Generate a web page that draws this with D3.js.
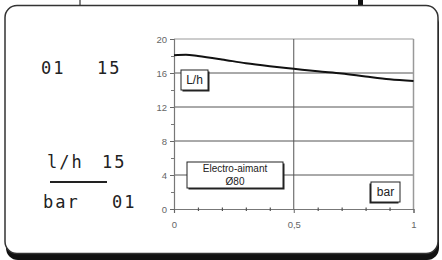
<!DOCTYPE html>
<html><head><meta charset="utf-8">
<script src="https://cdn.jsdelivr.net/npm/d3@7"></script>
<style>html,body{margin:0;padding:0;background:#fff;}svg{display:block;}</style>
</head><body>
<svg id="c" width="442" height="260"></svg>
<script>
// Data
const xs = [0, 0.05, 0.1, 0.2, 0.3, 0.4, 0.5, 0.6, 0.7, 0.8, 0.9, 1];
const flow = [18.1, 18.15, 18.0, 17.6, 17.15, 16.8, 16.5, 16.2, 15.95, 15.6, 15.27, 15.05];
const yMajor = [0, 4, 8, 12, 16, 20];
const yMinor = [2, 6, 10, 14, 18];
const xMajor = [0, 0.5, 1];
const xMajorLabels = ["0", "0,5", "1"];
const xMinor = [0.1, 0.2, 0.3, 0.4, 0.6, 0.7, 0.8, 0.9];
const leftRows = [
  {a: "01", b: "15"},
  {a: "l/h", b: "15"},
  {a: "bar", b: "01"}
];

const svg = d3.select("#c");

// frame
svg.append("line").attr("x1",80).attr("x2",80).attr("y1",0).attr("y2",6).attr("stroke","#333").attr("stroke-width",1.2);
svg.append("rect").attr("x",358).attr("y",0).attr("width",5).attr("height",6).attr("fill","#111");
svg.append("rect").attr("x",6).attr("y",12).attr("width",433).attr("height",248).attr("rx",12).attr("fill","#111");
svg.append("rect").attr("x",5).attr("y",5.5).attr("width",433).attr("height",248).attr("rx",12)
  .attr("fill","#fff").attr("stroke","#333").attr("stroke-width",1.5);

// scales
const x = d3.scaleLinear().domain([0,1]).range([174,413.5]);
const y = d3.scaleLinear().domain([0,20]).range([209,39]);

const g = svg.append("g");
const grid = "#555";
// horizontal gridlines
g.selectAll(".hg").data(yMajor.filter(d=>d>0)).enter().append("line")
  .attr("x1",x(0)).attr("x2",x(1)).attr("y1",d=>y(d)).attr("y2",d=>y(d))
  .attr("stroke",d=>d===20?"#999":grid).attr("stroke-width",1);
// vertical gridlines
g.append("line").attr("x1",x(0.5)).attr("x2",x(0.5)).attr("y1",y(0)).attr("y2",y(20)).attr("stroke",grid);
g.append("line").attr("x1",x(1)).attr("x2",x(1)).attr("y1",y(0)).attr("y2",y(20)).attr("stroke","#999").attr("stroke-width",1.5);

// axes
const yAxis = d3.axisLeft(y).tickValues(yMajor).tickSize(4).tickPadding(3).tickFormat(d3.format("d"));
const ya = svg.append("g").attr("transform",`translate(${x(0)},0)`).call(yAxis);
const xAxis = d3.axisBottom(x).tickValues(xMajor).tickSize(4).tickPadding(8).tickFormat((d,i)=>xMajorLabels[i]);
const xa = svg.append("g").attr("transform",`translate(0,${y(0)})`).call(xAxis);
[ya,xa].forEach(a=>{
  a.select(".domain").attr("stroke","#777").attr("stroke-width",1.2);
  a.selectAll(".tick line").attr("stroke","#666");
  a.selectAll("text").attr("fill","#666").style("font-family","Liberation Sans, Arial, sans-serif").style("font-size","9.5px");
});
// minor ticks
svg.append("g").attr("transform",`translate(${x(0)},0)`).call(d3.axisLeft(y).tickValues(yMinor).tickSize(3).tickFormat(""))
  .call(a=>{a.select(".domain").remove();a.selectAll("line").attr("stroke","#777");});
svg.append("g").attr("transform",`translate(0,${y(0)-1.5})`).call(d3.axisBottom(x).tickValues(xMinor).tickSize(3.5).tickFormat(""))
  .call(a=>{a.select(".domain").remove();a.selectAll("line").attr("stroke","#555").attr("stroke-width",1.2);});

// curve
const line = d3.line().x((d,i)=>x(xs[i])).y(d=>y(d)).curve(d3.curveMonotoneX);
svg.append("path").datum(flow).attr("d",line).attr("fill","none").attr("stroke","#111").attr("stroke-width",2);

// label boxes
function box(x0,y0,w,h,lines,fs,shadowSide){
  const gg = svg.append("g");
  if(shadowSide==="right")
    gg.append("rect").attr("x",x0+1.5).attr("y",y0+1.5).attr("width",w).attr("height",h).attr("fill","#222");
  else if(shadowSide==="left")
    gg.append("rect").attr("x",x0-1.5).attr("y",y0+1.5).attr("width",w).attr("height",h).attr("fill","#222");
  gg.append("rect").attr("x",x0).attr("y",y0).attr("width",w).attr("height",h).attr("fill","#fff").attr("stroke","#222").attr("stroke-width",1);
  lines.forEach((t,i)=>{
    gg.append("text").attr("x",x0+w/2).attr("y",lines.length===1? y0+h/2+fs*0.36 : y0+10+i*13)
      .attr("text-anchor","middle").style("font-family","Liberation Sans, Arial, sans-serif").style("font-size",fs+"px").attr("fill","#222").text(t);
  });
}
box(181,70,27,20,["L/h"],12,"right");
box(187,162,96,26,["Electro-aimant","Ø80"],10,"right");
box(371,182,29,20,["bar"],12,"left");

// left text
const lf = "DejaVu Sans Mono, monospace";
const rowY = [74, 168, 208];
const colA = [41, 47, 43];
const colB = [97, 102, 112];
leftRows.forEach((r,i)=>{
  svg.append("text").attr("x",colA[i]).attr("y",rowY[i]).text(r.a)
    .style("font-family",lf).style("font-size","17px").style("letter-spacing","2px").attr("fill","#222");
  svg.append("text").attr("x",colB[i]).attr("y",rowY[i]).text(r.b)
    .style("font-family",lf).style("font-size","17px").style("letter-spacing","2px").attr("fill","#222");
});
svg.append("line").attr("x1",50).attr("x2",107).attr("y1",182).attr("y2",182).attr("stroke","#222").attr("stroke-width",2.2);
</script>
</body></html>
